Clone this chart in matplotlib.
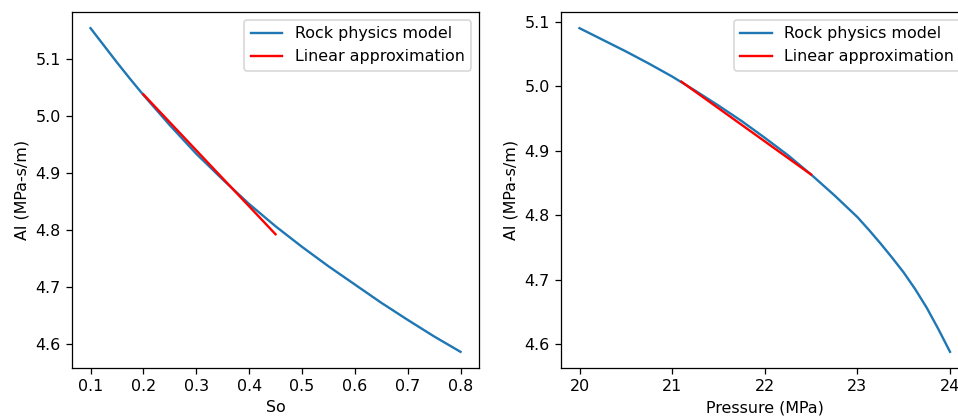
import numpy as np
import matplotlib
matplotlib.use("Agg")
import matplotlib.pyplot as plt
from matplotlib.ticker import MultipleLocator

# left panel: AI vs oil saturation
so = [0.100, 0.125, 0.150, 0.175, 0.20, 0.25, 0.30, 0.35, 0.40, 0.45, 0.50, 0.55,
      0.60, 0.65, 0.70, 0.75, 0.80]
ai_so = [5.154, 5.124, 5.094, 5.065, 5.037, 4.984, 4.934, 4.889, 4.846, 4.807, 4.771, 4.737,
         4.705, 4.673, 4.643, 4.614, 4.587]
so_lin = [0.20, 0.45]
ai_so_lin = [5.038, 4.793]

# right panel: AI vs pressure
pres = [20.0, 20.25, 20.5, 20.75, 21.0, 21.25, 21.5, 21.75, 22.0, 22.25, 22.5, 22.75,
        23.0, 23.125, 23.25, 23.375, 23.5, 23.625, 23.75, 23.875, 24.0]
ai_p = [5.090, 5.072, 5.054, 5.035, 5.015, 4.993, 4.970, 4.946, 4.920, 4.893, 4.863, 4.831,
        4.797, 4.777, 4.756, 4.734, 4.711, 4.685, 4.656, 4.623, 4.588]
pres_lin = [21.1, 22.5]
ai_p_lin = [5.007, 4.863]

dpi = 114
fig = plt.figure(figsize=(958 / dpi, 417 / dpi), dpi=dpi)
ax1 = fig.add_axes([0.0752, 0.1175, 0.4248, 0.8537])
ax2 = fig.add_axes([0.5856, 0.1175, 0.4254, 0.8537])

ax1.plot(so, ai_so, color="tab:blue", label="Rock physics model")
ax1.plot(so_lin, ai_so_lin, color="red", label="Linear approximation")
ax1.set_xlabel("So")
ax1.set_ylabel("AI (MPa-s/m)")
ax1.legend(loc="upper right")

ax2.plot(pres, ai_p, color="tab:blue", label="Rock physics model")
ax2.plot(pres_lin, ai_p_lin, color="red", label="Linear approximation")
ax2.xaxis.set_major_locator(MultipleLocator(1))
ax2.set_xlabel("Pressure (MPa)")
ax2.set_ylabel("AI (MPa-s/m)")
ax2.legend(loc="upper right")

fig.savefig("out.png", dpi=dpi)
